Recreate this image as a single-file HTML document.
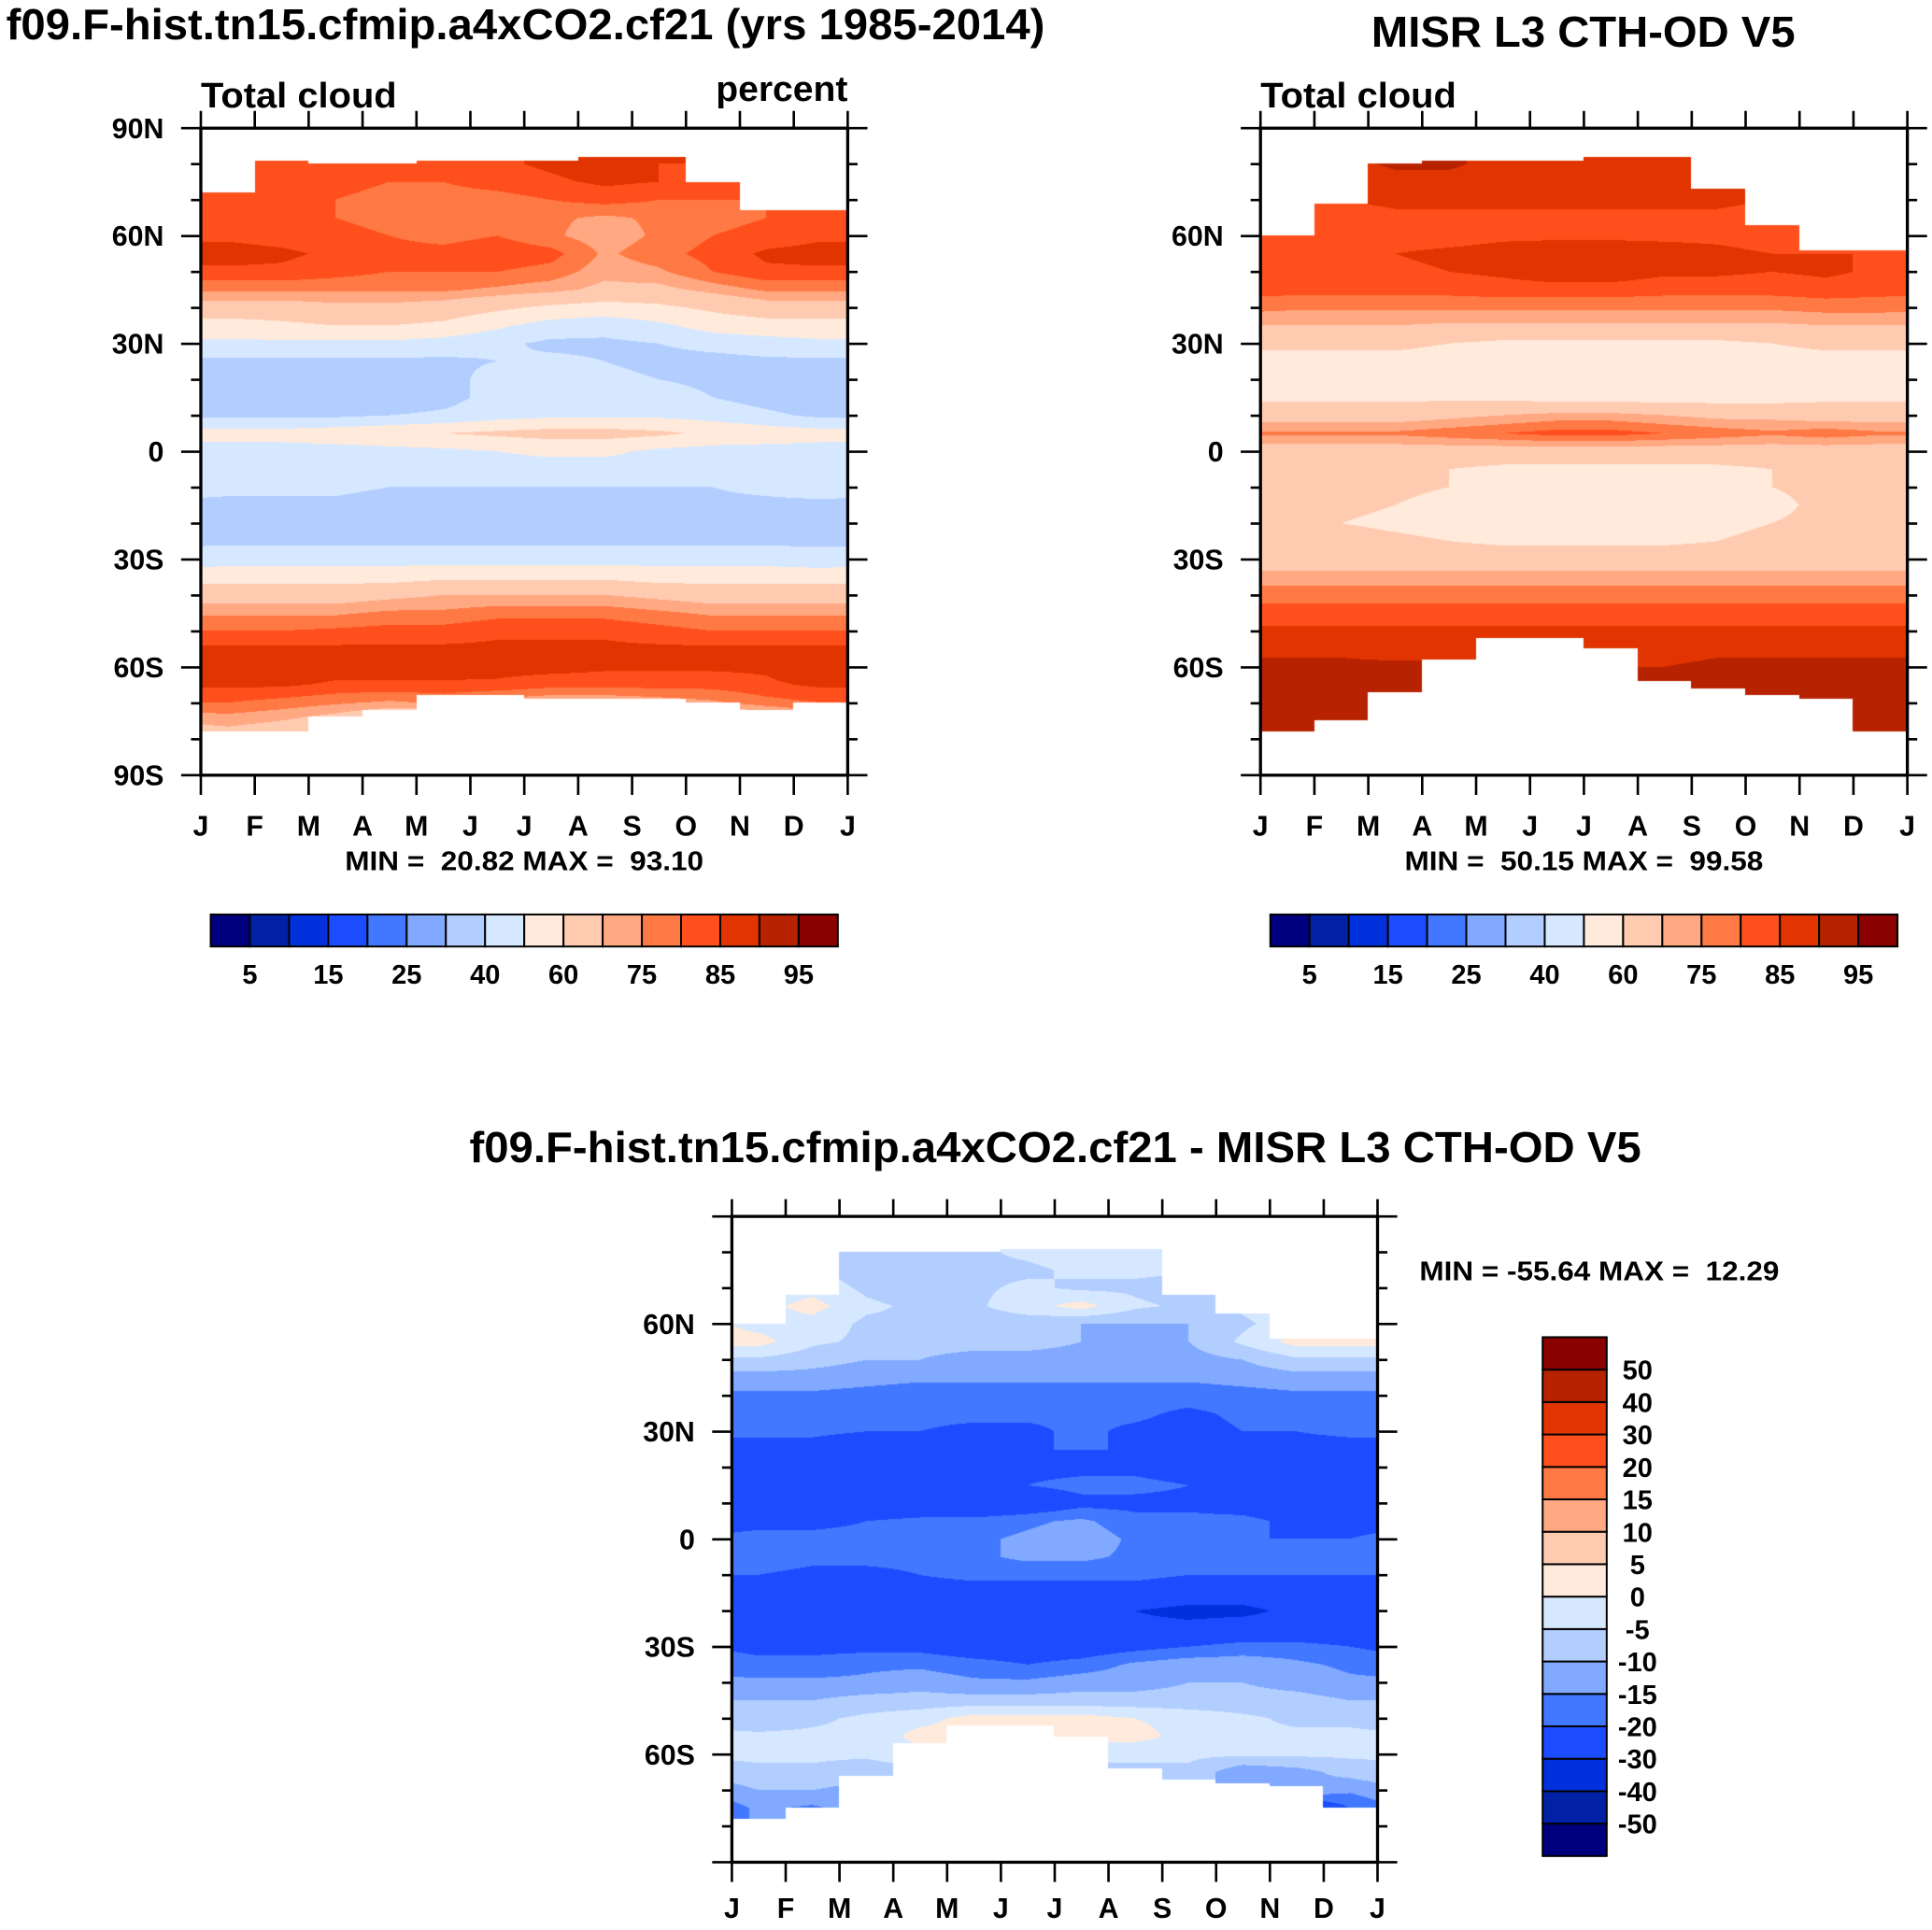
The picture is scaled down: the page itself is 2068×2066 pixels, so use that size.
<!DOCTYPE html>
<html><head><meta charset="utf-8">
<style>
html,body{margin:0;padding:0;background:#fff;}
#root{position:relative;width:2068px;height:2066px;overflow:hidden;background:#fff;}
canvas{position:absolute;}
svg{position:absolute;left:0;top:0;}
text{font-family:"Liberation Sans",Arial,sans-serif;font-weight:bold;fill:#000;white-space:pre;}
</style></head>
<body>
<div id="root">
<canvas id="c1"></canvas>
<canvas id="c2"></canvas>
<canvas id="c3"></canvas>
<svg id="ov" width="2068" height="2066" viewBox="0 0 1568 1566" preserveAspectRatio="none"></svg>
</div>
<script>
// ---- data ----
const monthLabels = ["J","F","M","A","M","J","J","A","S","O","N","D","J"];
const lats = [80,75,70,65,60,55,50,45,40,35,30,25,20,15,10,5,0,-5,-10,-15,-20,-25,-30,-35,-40,-45,-50,-55,-60,-65,-70,-75,-80];
const absLevels = [5,10,15,20,25,30,40,50,60,70,75,80,85,90,95];
const absLabels = ["5","15","25","40","60","75","85","95"];
const diffLevels = [-50,-40,-30,-20,-15,-10,-5,0,5,10,15,20,30,40,50];
const palette = ["#00007f","#0021a6","#0031dc","#1b4cff","#4278ff","#80a9ff","#b2ceff","#d6e8ff","#ffeadb","#ffcbb0","#ffa882","#ff7944","#ff4f1c","#e13400","#b72200","#8b0000"];
const latTickLabels1 = ["90N","60N","30N","0","30S","60S","90S"];
const latTickLabels2 = ["60N","30N","0","30S","60S"];

const model = [
[82,82,83,83,82,84,86,88,85,85,82,82],
[80,82,82,80,80,82,84,86,85,84,82,82],
[80,80,80,78,78,78,80,82,80,80,80,80],
[82,82,80,78,76,76,76,74,76,78,80,82],
[84,83,82,80,78,80,76,72,76,80,82,84],
[87,86,84,82,82,84,82,74,78,82,86,87],
[84,84,82,80,80,80,78,72,74,80,84,84],
[76,76,76,76,76,74,72,68,68,72,76,76],
[66,66,68,68,66,62,58,56,58,62,66,66],
[56,58,60,60,58,52,46,44,48,54,56,56],
[48,48,48,48,46,42,38,38,40,44,46,48],
[38,38,38,38,38,40,42,40,36,36,38,38],
[32,30,30,32,36,44,46,44,40,38,36,34],
[32,30,30,32,36,44,46,46,44,40,36,32],
[38,38,38,40,42,46,48,48,48,46,42,38],
[54,54,56,58,60,62,64,64,62,58,56,54],
[46,46,46,47,48,50,52,52,48,46,46,46],
[44,44,42,42,44,46,46,46,46,44,42,44],
[42,42,42,40,40,40,40,40,40,40,42,44],
[38,38,38,36,34,34,36,38,38,38,38,38],
[36,36,36,36,36,36,36,36,36,36,36,36],
[38,38,38,38,38,38,38,38,38,38,38,38],
[46,46,46,46,46,46,46,46,46,46,46,44],
[56,56,56,56,58,58,58,58,56,56,56,56],
[66,66,66,68,70,70,70,70,68,66,66,66],
[74,74,74,76,76,78,78,78,76,74,74,74],
[80,80,81,82,82,84,84,84,82,80,80,80],
[86,86,86,86,86,86,86,86,86,86,86,86],
[90,90,88,88,88,87,87,86,86,86,86,90],
[86,86,84,84,84,84,82,82,82,82,84,86],
[80,78,76,74,76,72,70,70,72,74,78,80],
[72,70,66,60,60,56,54,52,52,56,62,70],
[66,64,60,50,50,50,46,44,44,48,56,66]];
const misr = [
[88,88,91,91,88,88,88,87,87,86,86,86],
[86,86,88,88,87,87,87,86,86,86,86,86],
[84,85,86,86,86,86,86,86,86,85,84,84],
[83,83,84,84,84,84,84,84,84,83,83,83],
[83,83,83,83,84,84,84,84,84,83,83,83],
[85,85,85,86,87,88,88,87,86,85,85,85],
[84,84,84,85,86,88,88,86,86,85,86,84],
[82,82,82,82,83,83,83,82,82,82,83,82],
[76,76,76,76,76,76,76,76,76,76,77,77],
[70,70,70,69,69,69,69,69,69,69,70,70],
[62,62,62,60,58,58,58,58,58,60,62,62],
[57,57,57,56,55,55,55,55,55,56,57,57],
[56,56,56,56,56,56,56,56,56,56,56,56],
[58,58,58,58,58,56,56,56,56,56,58,58],
[66,66,66,68,70,72,72,70,68,68,66,66],
[76,76,76,78,80,82,82,80,78,76,78,76],
[66,66,66,66,66,66,66,66,66,66,66,66],
[62,62,62,60,58,58,58,58,58,60,62,62],
[62,62,62,60,58,56,56,56,58,60,62,62],
[62,62,60,57,56,55,55,55,56,58,62,62],
[62,60,58,56,56,56,56,56,56,60,62,62],
[64,64,62,60,58,58,58,58,60,64,64,64],
[66,66,66,66,66,66,66,66,66,66,66,66],
[72,72,72,72,72,72,72,72,72,72,72,72],
[78,78,78,78,78,78,78,78,78,78,78,78],
[82,82,82,82,82,82,82,82,82,82,82,82],
[86,86,86,86,86,86,86,86,86,86,86,86],
[89,89,88,88,88,88,88,88,89,89,89,89],
[91,91,91,91,90,90,90,90,91,91,91,91],
[92,92,92,92,92,92,92,92,92,92,92,92],
[92,92,92,92,92,92,92,92,92,92,92,92],
[92,92,92,92,92,92,92,92,92,92,92,92],
[92,92,92,92,92,92,92,92,92,92,92,92]];
const diff = [
[-4,-4,-6,-6,-6,-4,-2,-4,-4,-4,-4,-4],
[-4,-4,-8,-8,-6,-6,-4,-4,-4,-4,-4,-4],
[-4,-2,-6,-8,-6,-4,-6,-6,-8,-4,-4,-4],
[-2,2,-4,-6,-6,-2,2,-4,-6,-4,-2,-2],
[-2,-2,-6,-6,-8,-8,-10,-10,-10,-6,-2,2],
[2,-4,-6,-8,-8,-8,-10,-12,-10,-4,2,2],
[-6,-8,-10,-10,-12,-12,-12,-12,-12,-10,-6,-6],
[-12,-12,-13,-14,-14,-14,-14,-14,-14,-13,-12,-12],
[-16,-16,-17,-18,-18,-18,-18,-18,-18,-17,-16,-16],
[-19,-19,-19,-19,-19,-19,-19,-19,-21,-19,-18,-19],
[-19,-19,-20,-20,-21,-21,-19,-21,-22,-20,-20,-19],
[-22,-22,-24,-24,-22,-20,-20,-20,-22,-22,-22,-22],
[-24,-26,-28,-26,-24,-22,-22,-22,-24,-24,-26,-24],
[-24,-28,-28,-28,-24,-20,-18,-18,-20,-22,-24,-24],
[-26,-26,-28,-28,-28,-26,-22,-22,-22,-24,-26,-26],
[-22,-22,-20,-18,-18,-16,-14,-18,-18,-18,-22,-22],
[-18,-18,-18,-18,-16,-14,-12,-16,-18,-20,-20,-20],
[-16,-18,-18,-18,-16,-14,-14,-16,-18,-18,-18,-18],
[-20,-22,-22,-20,-18,-18,-18,-18,-20,-20,-20,-20],
[-22,-24,-24,-24,-24,-24,-24,-24,-26,-26,-24,-24],
[-24,-24,-26,-26,-26,-26,-28,-30,-32,-32,-28,-26],
[-26,-26,-26,-26,-26,-26,-28,-28,-28,-26,-26,-26],
[-22,-22,-22,-22,-24,-24,-24,-22,-20,-18,-18,-20],
[-18,-18,-16,-16,-18,-20,-18,-14,-12,-12,-14,-16],
[-14,-14,-14,-12,-14,-14,-12,-12,-10,-10,-12,-14],
[-10,-10,-8,-8,-8,-8,-8,-8,-8,-8,-8,-10],
[-8,-6,-4,-2,2,2,2,0,-2,-4,-6,-6],
[-4,-4,-4,2,2,2,2,2,-2,-4,-4,-4],
[-4,-4,-4,-2,-4,-4,-4,-4,-4,-4,-4,-4],
[-6,-6,-8,-6,-6,-6,-6,-6,-6,-14,-12,-8],
[-10,-10,-12,-10,-10,-10,-10,-10,-10,-10,-10,-14],
[-14,-16,-12,-12,-12,-12,-12,-12,-12,-30,-30,-20],
[-14,-16,-12,-12,-12,-12,-12,-12,-12,-30,-30,-20]];
const northLim1 = [72,81,80,80,81,81,81,82,82,75,67,67];
const southLim1 = [-78,-78,-74,-72,-68,-68,-69,-69,-69,-70,-72,-70];
const northLim2 = [60,69,80,81,81,81,82,82,73,63,56,56];
const southLim2 = [-78,-75,-67,-58,-52,-52,-55,-64,-66,-68,-69,-78];
const northLim3 = [60,68,80,80,80,81,81,81,68,63,56,56];
const southLim3 = [-78,-75,-66,-57,-52,-52,-55,-64,-67,-68,-69,-75];

// ---- layout (in 1568-space) ----
const S = 2068/1568;
const NS="http://www.w3.org/2000/svg";
const ov=document.getElementById('ov');
function el(tag,attrs,parent,txt){const e=document.createElementNS(NS,tag);for(const k in attrs)e.setAttribute(k,attrs[k]);if(txt!==undefined)e.textContent=txt;(parent||ov).appendChild(e);return e;}

function field(canvasId,data,levels,nLim,sLim,L,T,W,H){
  const c=document.getElementById(canvasId);
  const pw=Math.round(W*S), ph=Math.round(H*S);
  c.width=pw;c.height=ph;c.style.left=(L*S)+'px';c.style.top=(T*S)+'px';
  c.style.width=pw+'px';c.style.height=ph+'px';
  const ctx=c.getContext('2d');const img=ctx.createImageData(pw,ph);
  const rgb=palette.map(h=>[parseInt(h.substr(1,2),16),parseInt(h.substr(3,2),16),parseInt(h.substr(5,2),16)]);
  for(let py=0;py<ph;py++){
    const lat=90-(py+0.5)/ph*180;
    let r=(80-lat)/5; if(r<0)r=0; if(r>lats.length-1)r=lats.length-1;
    const r0=Math.floor(r), r1=Math.min(r0+1,lats.length-1), fr=r-r0;
    for(let px=0;px<pw;px++){
      const t=(px+0.5)/pw*12; const mi=Math.min(11,Math.floor(t));
      const idx=(py*pw+px)*4;
      if(lat>nLim[mi]||lat<sLim[mi]){img.data[idx]=255;img.data[idx+1]=255;img.data[idx+2]=255;img.data[idx+3]=255;continue;}
      let m=t-0.5; let m0=Math.floor(m); const fm=m-m0; let m1=m0+1;
      m0=(m0+12)%12; m1=(m1+12)%12;
      const v=(data[r0][m0]*(1-fm)+data[r0][m1]*fm)*(1-fr)+(data[r1][m0]*(1-fm)+data[r1][m1]*fm)*fr;
      let k=0; while(k<levels.length&&v>=levels[k])k++;
      const col=rgb[k];
      img.data[idx]=col[0];img.data[idx+1]=col[1];img.data[idx+2]=col[2];img.data[idx+3]=255;
    }
  }
  ctx.putImageData(img,0,0);
}

function axes(name,L,T,W,H,labels,labelLats,mOff){
  const g=el('g',{},ov);
  
  
  el('rect',{x:L,y:T,width:W,height:H,fill:'none',stroke:'#000','stroke-width':2.5},g);
  const yOf=lat=>T+(90-lat)/180*H;
  for(let lat=-80;lat<=80;lat+=10){
    const y=yOf(lat);const major=lat%30===0;const len=major?16:8;
    el('line',{x1:L-len,y1:y,x2:L,y2:y,stroke:'#000','stroke-width':2},g);
    el('line',{x1:L+W,y1:y,x2:L+W+len,y2:y,stroke:'#000','stroke-width':2},g);
  }
  [90,-90].forEach(lat=>{const y=yOf(lat);
    el('line',{x1:L-16,y1:y,x2:L,y2:y,stroke:'#000','stroke-width':2},g);
    el('line',{x1:L+W,y1:y,x2:L+W+16,y2:y,stroke:'#000','stroke-width':2},g);});
  labels.forEach((lb,i)=>{const t=el('text',{x:L-30,y:yOf(labelLats[i])+8,'text-anchor':'end','font-size':23},g,lb);
    });
  monthLabels.forEach((m,i)=>{const x=L+i*W/12;
    el('line',{x1:x,y1:T-14,x2:x,y2:T,stroke:'#000','stroke-width':2},g);
    el('line',{x1:x,y1:T+H,x2:x,y2:T+H+16,stroke:'#000','stroke-width':2},g);
    const t=el('text',{x:x,y:T+H+mOff,'text-anchor':'middle','font-size':23},g,m);
    });
}

function hbar(name,L,T,W,H){
  const g=el('g',{},ov);
  
  
  const bw=W/palette.length;
  palette.forEach((c,i)=>el('rect',{x:L+i*bw,y:T,width:bw,height:H,fill:c,stroke:'#000','stroke-width':1.5},g));
  absLabels.forEach((lb,j)=>{const t=el('text',{x:L+(2*j+1)*bw,y:T+H+30,'text-anchor':'middle','font-size':22},g,lb);
    });
}
function vbar(name,L,T,W,H){
  const g=el('g',{},ov);
  
  
  const bh=H/palette.length;
  palette.forEach((c,i)=>el('rect',{x:L,y:T+(palette.length-1-i)*bh,width:W,height:bh,fill:c,stroke:'#000','stroke-width':1.5},g));
  diffLevels.forEach((lv,i)=>{const y=T+(palette.length-1-i)*bh;
    const t=el('text',{x:L+W+25,y:y+8,'text-anchor':'middle','font-size':22},g,String(lv));
    });
}
function txt(name,x,y,s,size,anchor,len){const a={x:x,y:y,'font-size':size,'text-anchor':anchor||'start'};
  if(len){a.textLength=len;a.lengthAdjust='spacingAndGlyphs';}
  const t=el('text',a,ov,s);
  }

field('c1',model,absLevels,northLim1,southLim1,163,104,525,525);
field('c2',misr,absLevels,northLim2,southLim2,1023,104,525,525);
field('c3',diff,diffLevels,northLim3,southLim3,594,987,524,524);

axes('model',163,104,525,525,latTickLabels1,[90,60,30,0,-30,-60,-90],49);
axes('misr',1023,104,525,525,latTickLabels2,[60,30,0,-30,-60],49);
axes('diff',594,987,524,524,latTickLabels2,[60,30,0,-30,-60],45);

txt('model-title',5,32,'f09.F-hist.tn15.cfmip.a4xCO2.cf21 (yrs 1985-2014)',35,'start',843);
txt('model-subtitle',163,87,'Total cloud',29,'start',159);
txt('model-units',688,82,'percent',29,'end',107);
txt('model-min-max',280,706,'MIN =  20.82 MAX =  93.10',22,'start',291);
txt('misr-title',1113,38,'MISR L3 CTH-OD V5',35,'start',344);
txt('misr-subtitle',1023,87,'Total cloud',29,'start',159);
txt('misr-min-max',1140,706,'MIN =  50.15 MAX =  99.58',22,'start',291);
txt('diff-title',381,943,'f09.F-hist.tn15.cfmip.a4xCO2.cf21 - MISR L3 CTH-OD V5',35,'start',951);
txt('diff-min-max',1152,1039,'MIN = -55.64 MAX =  12.29',22,'start',292);

hbar('model-colorbar',171,742,509,26);
hbar('misr-colorbar',1031,742,509,26);
vbar('diff-colorbar',1252,1085,52,421);
</script>
</body></html>
